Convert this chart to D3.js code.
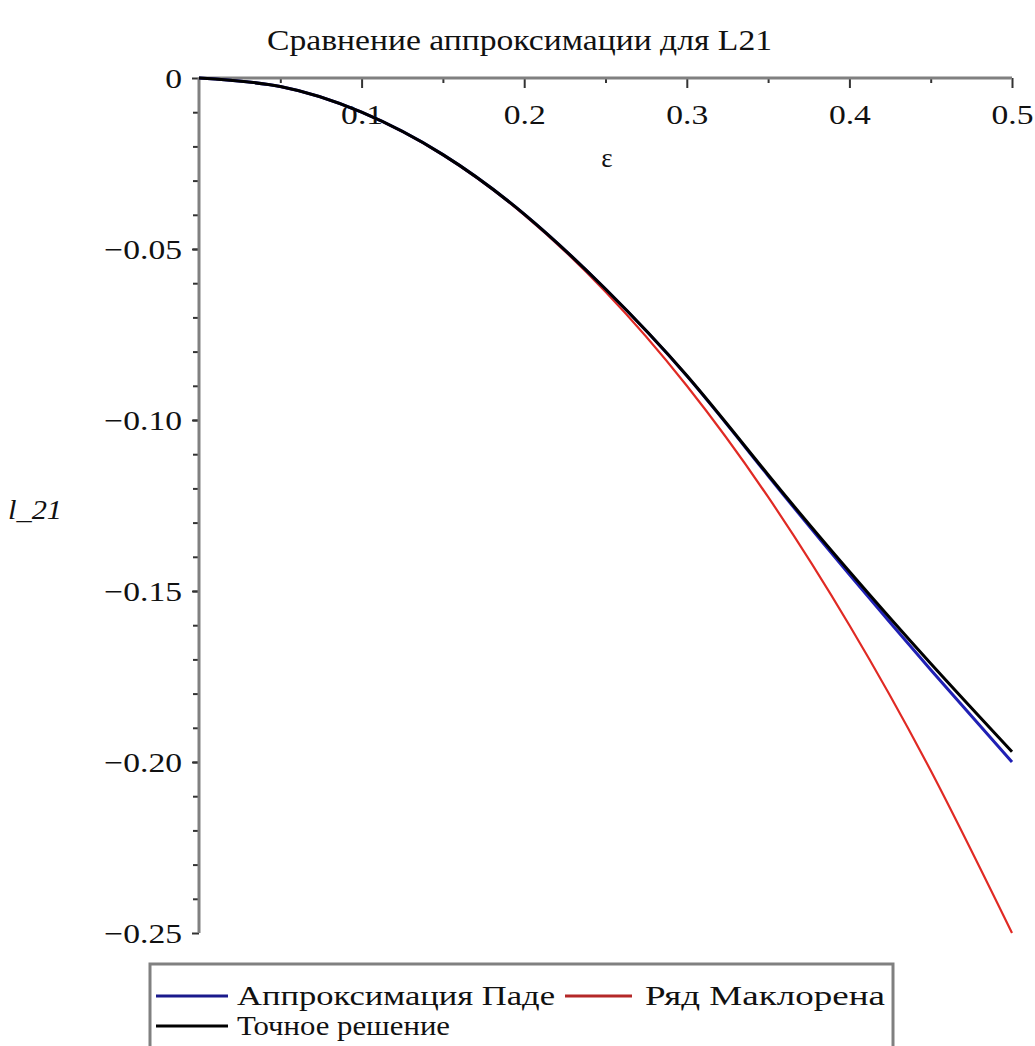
<!DOCTYPE html>
<html>
<head>
<meta charset="utf-8">
<title>L21</title>
<style>
  body { margin: 0; background: #fff; }
  text { font-family: "Liberation Serif", "DejaVu Serif", serif; fill: #111; }
</style>
</head>
<body>
<script src="https://d3js.org/d3.v7.min.js"></script>
<script>
// values
var eps       = [0, 0.05, 0.1, 0.15, 0.2, 0.25, 0.3, 0.35, 0.4, 0.45, 0.5];
var pade      = [0, -0.0025, -0.0100, -0.0224, -0.0398, -0.0617, -0.0871, -0.1163, -0.1452, -0.1730, -0.2000];
var maclaurin = [0, -0.0025, -0.0100, -0.0225, -0.0400, -0.0625, -0.0900, -0.1225, -0.1600, -0.2025, -0.2500];
var exact     = [0, -0.0025, -0.0100, -0.0224, -0.0398, -0.0617, -0.0870, -0.1160, -0.1443, -0.1712, -0.1970];
var xTicks = [0.1, 0.2, 0.3, 0.4, 0.5];
var xMinor = [0.05, 0.15, 0.25, 0.35, 0.45];
var yTicks = [0, -0.05, -0.10, -0.15, -0.20, -0.25];
var seriesNames = ["Аппроксимация Паде", "Ряд Маклорена", "Точное решение"];

var width = 1035, height = 1046;
var sx = 1.2; // text in the original is stretched sideways

var svg = d3.select("body").append("svg")
    .attr("width", width).attr("height", height);

var x = d3.scaleLinear().domain([0, 0.5]).range([199, 1012]);
var y = d3.scaleLinear().domain([0, -0.25]).range([78, 933]);

// title
svg.append("text")
    .text("Сравнение аппроксимации для L21")
    .attr("x", 267).attr("y", 50)
    .attr("font-size", "29px")
    .attr("textLength", 505).attr("lengthAdjust", "spacingAndGlyphs");

// x axis: minor ticks, then major
svg.append("g").attr("class", "tk")
    .attr("transform", "translate(0," + y(0) + ")")
    .call(d3.axisBottom(x).tickValues(xMinor).tickSize(5).tickFormat(""));
var gx = svg.append("g").attr("class", "tk")
    .attr("transform", "translate(0," + y(0) + ")")
    .call(d3.axisBottom(x).tickValues(xTicks).tickSize(10).tickFormat(d3.format(".1f")));
gx.selectAll("text")
    .attr("y", 0).attr("dy", 0).attr("x", 0)
    .attr("font-size", "28px")
    .attr("transform", "translate(0,46) scale(" + sx + ",1)");

// y axis: minor ticks every 0.01, then major
svg.append("g").attr("class", "tk")
    .attr("transform", "translate(" + x(0) + ",0)")
    .call(d3.axisLeft(y).tickValues(d3.range(1, 25).map(function (i) { return -i / 100; })).tickSize(6).tickFormat(""));
var gy = svg.append("g").attr("class", "tk")
    .attr("transform", "translate(" + x(0) + ",0)")
    .call(d3.axisLeft(y).tickValues(yTicks).tickSize(7).tickFormat(function (d) {
        return d === 0 ? "0" : "\u2212" + d3.format(".2f")(-d);
    }));
gy.selectAll("text")
    .attr("font-size", "28px")
    .attr("x", -17 / sx).attr("dy", "0.34em")
    .attr("transform", "scale(" + sx + ",1)");

svg.selectAll(".tk .domain").remove();
svg.selectAll(".tk line").attr("stroke", "#333").attr("stroke-width", 2);
svg.selectAll(".tk text").attr("fill", "#111").attr("font-family", "Liberation Serif");

// axis lines
svg.append("line")
    .attr("x1", x(0)).attr("x2", x(0.5)).attr("y1", y(0)).attr("y2", y(0))
    .attr("stroke", "#808080").attr("stroke-width", 3);
svg.append("line")
    .attr("x1", x(0)).attr("x2", x(0)).attr("y1", y(0)).attr("y2", y(-0.25))
    .attr("stroke", "#808080").attr("stroke-width", 3);

// axis titles
svg.append("text").text("ε")
    .attr("x", 607).attr("y", 167)
    .attr("text-anchor", "middle")
    .attr("font-size", "27px");
svg.append("text").text("l_21")
    .attr("x", 8).attr("y", 519)
    .attr("font-style", "italic")
    .attr("font-size", "28px")
    .attr("textLength", 54).attr("lengthAdjust", "spacingAndGlyphs");

// curves
var line = d3.line()
    .x(function (d, i) { return x(eps[i]); })
    .y(function (d) { return y(d); })
    .curve(d3.curveNatural);

svg.append("path").datum(maclaurin)
    .attr("d", line).attr("fill", "none")
    .attr("stroke", "#e02a24").attr("stroke-width", 2.2);
svg.append("path").datum(pade)
    .attr("d", line).attr("fill", "none")
    .attr("stroke", "#2020b4").attr("stroke-width", 3);
svg.append("path").datum(exact)
    .attr("d", line).attr("fill", "none")
    .attr("stroke", "#000").attr("stroke-width", 3);

// legend
var legend = svg.append("g");
legend.append("rect")
    .attr("x", 150).attr("y", 964).attr("width", 743).attr("height", 100)
    .attr("fill", "#fff").attr("stroke", "#808080").attr("stroke-width", 3);

var legendItems = [
    { name: seriesNames[0], color: "#1a1a8c", x1: 156, x2: 228, tx: 237, ty: 996, tw: 318 },
    { name: seriesNames[1], color: "#b42828", x1: 565, x2: 632, tx: 645, ty: 996, tw: 240 },
    { name: seriesNames[2], color: "#000",    x1: 156, x2: 228, tx: 237, ty: 1026, tw: 213 }
];
legendItems.forEach(function (d) {
    legend.append("line")
        .attr("x1", d.x1).attr("x2", d.x2).attr("y1", d.ty).attr("y2", d.ty)
        .attr("stroke", d.color).attr("stroke-width", 3);
    legend.append("text").text(d.name)
        .attr("x", d.tx).attr("y", d.ty + 9)
        .attr("font-size", "27px")
        .attr("textLength", d.tw).attr("lengthAdjust", "spacingAndGlyphs");
});
</script>
</body>
</html>
